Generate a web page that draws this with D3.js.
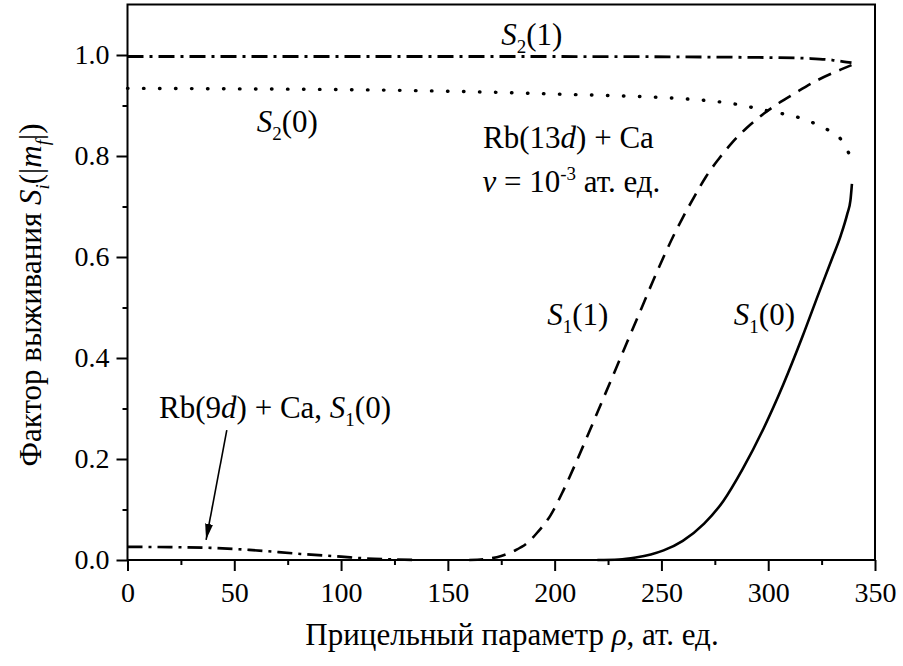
<!DOCTYPE html>
<html>
<head>
<meta charset="utf-8">
<script src="https://cdn.jsdelivr.net/npm/d3@7/dist/d3.min.js"></script>
<style>
  html, body { margin: 0; padding: 0; background: #fff; }
  svg text { font-family: "Liberation Serif", "Times New Roman", serif; fill: #000; }
</style>
</head>
<body>
<svg id="chart" width="903" height="666"></svg>
<script>
// tick values
var xTicks = [0, 50, 100, 150, 200, 250, 300, 350];
var yTicks = [0.0, 0.2, 0.4, 0.6, 0.8, 1.0];

// S1(0), solid
var rhoS10 = [220, 230, 238, 245, 251, 260, 270, 279, 288, 298, 307, 316, 324, 330, 334, 337, 338.5, 339.2];
var valS10 = [0, 0.001, 0.005, 0.011, 0.019, 0.038, 0.072, 0.117, 0.180, 0.262, 0.347, 0.442, 0.532, 0.598, 0.643, 0.685, 0.712, 0.745];

// S1(1), dashed
var rhoS11 = [160, 168, 175, 181, 187, 192, 198, 204, 210, 216, 222, 228, 234, 240, 246, 251, 256, 260, 266, 271, 277, 283, 290, 298, 305, 312, 323, 335, 339];
var valS11 = [0, 0.002, 0.008, 0.018, 0.033, 0.055, 0.088, 0.137, 0.193, 0.252, 0.312, 0.372, 0.432, 0.492, 0.552, 0.600, 0.645, 0.678, 0.724, 0.760, 0.795, 0.826, 0.856, 0.884, 0.905, 0.923, 0.950, 0.973, 0.980];

// S2(1), dash-dot
var rhoS21 = [0, 100, 200, 300, 320, 330, 335, 339];
var valS21 = [0.997, 0.997, 0.997, 0.995, 0.993, 0.990, 0.987, 0.985];

// S2(0), dotted
var rhoS20 = [0, 50, 128, 198, 268, 287, 298, 305, 312, 319, 326.5, 334, 338.3];
var valS20 = [0.934, 0.933, 0.930, 0.923, 0.911, 0.901, 0.891, 0.885, 0.879, 0.869, 0.855, 0.833, 0.801];

// Rb(9d) + Ca, S1(0), dash-dot
var rhoRb9 = [0, 20, 39, 57, 81, 100, 112, 125, 135];
var valRb9 = [0.026, 0.0255, 0.024, 0.020, 0.012, 0.0066, 0.003, 0.001, 0];

var margin = {left: 127.5, right: 28, top: 4.5, bottom: 106};
var W = 903, H = 666;
var svg = d3.select('#chart');

var x = d3.scaleLinear().domain([0, 350]).range([margin.left, W - margin.right]);
var y = d3.scaleLinear().domain([0, 1.1]).range([H - margin.bottom, margin.top]);

var FONT = '"Liberation Serif", "Times New Roman", serif';
var FS = 31, TICK = 28, SUB = 19;

// axes
var xMinor = d3.range(25, 350, 50);
var yMinor = d3.range(0.1, 1.1, 0.2);

function styleAxis(g) {
  g.attr('font-family', FONT).attr('font-size', TICK);
  g.select('.domain').remove();
  g.selectAll('.tick line').attr('stroke', '#000').attr('stroke-width', 2);
  g.selectAll('text').style('font-size', TICK + 'px');
}

svg.append('g').attr('transform', 'translate(0,' + y(0) + ')')
  .call(d3.axisBottom(x).tickValues(xTicks).tickSize(11).tickPadding(11).tickFormat(d3.format('d')))
  .call(styleAxis);
svg.append('g').attr('transform', 'translate(0,' + y(0) + ')')
  .call(d3.axisBottom(x).tickValues(xMinor).tickSize(5).tickFormat(''))
  .call(styleAxis);
svg.append('g').attr('transform', 'translate(' + x(0) + ',0)')
  .call(d3.axisLeft(y).tickValues(yTicks).tickSize(11).tickPadding(7).tickFormat(d3.format('.1f')))
  .call(styleAxis);
svg.append('g').attr('transform', 'translate(' + x(0) + ',0)')
  .call(d3.axisLeft(y).tickValues(yMinor).tickSize(5).tickFormat(''))
  .call(styleAxis);

// frame
svg.append('rect')
  .attr('x', x(0)).attr('y', y(1.1))
  .attr('width', x(350) - x(0)).attr('height', y(0) - y(1.1))
  .attr('fill', 'none').attr('stroke', '#000').attr('stroke-width', 2);

// curves
var line = d3.line().x(function(d) { return x(d[0]); }).y(function(d) { return y(d[1]); })
  .curve(d3.curveMonotoneX);

function drawCurve(rho, val, dash, width, cap) {
  svg.append('path')
    .datum(d3.zip(rho, val))
    .attr('d', line)
    .attr('fill', 'none')
    .attr('stroke', '#000')
    .attr('stroke-width', width)
    .attr('stroke-linecap', cap || 'butt')
    .attr('stroke-dasharray', dash);
}

drawCurve(rhoS21, valS21, '16,6,3,6', 2.8);
drawCurve(rhoS20, valS20, '0.5,15.5', 3.4, 'round');
drawCurve(rhoS11, valS11, '14,9', 2.6);
drawCurve(rhoS10, valS10, null, 2.6);
drawCurve(rhoRb9, valRb9, '15,6,3,6', 2.6);

// arrow to Rb(9d) curve
svg.append('defs').append('marker')
  .attr('id', 'arrow').attr('viewBox', '0 0 16 8')
  .attr('refX', 16).attr('refY', 4)
  .attr('markerWidth', 16).attr('markerHeight', 8)
  .attr('markerUnits', 'userSpaceOnUse')
  .attr('orient', 'auto')
  .append('path').attr('d', 'M0,0 L16,4 L0,8 Z').attr('fill', '#000');

svg.append('line')
  .attr('x1', x(46.5)).attr('y1', y(0.257))
  .attr('x2', x(36.8)).attr('y2', y(0.040))
  .attr('stroke', '#000').attr('stroke-width', 1.6)
  .attr('marker-end', 'url(#arrow)');

// rich text helper: parts = [text, style, dy] where style: i = italic, sub, sup
function rich(parent, parts) {
  parts.forEach(function(p) {
    var t = parent.append('tspan').text(p[0]);
    var s = p[1] || '';
    if (s.indexOf('i') >= 0) t.style('font-style', 'italic');
    if (s.indexOf('sub') >= 0) t.style('font-size', SUB + 'px').attr('dy', 8);
    if (s.indexOf('sup') >= 0) t.style('font-size', SUB + 'px').attr('dy', -12);
    if (p[2]) t.attr('dy', p[2]);
  });
}

function label(rho, v, parts) {
  var t = svg.append('text')
    .attr('x', x(rho)).attr('y', y(v))
    .style('font-size', FS + 'px');
  rich(t, parts);
  return t;
}

label(175, 1.02, [['S', 'i'], ['2', 'sub'], ['(1)', '', -8]]);
label(60.5, 0.848, [['S', 'i'], ['2', 'sub'], ['(0)', '', -8]]);
label(166.5, 0.816, [['Rb(13'], ['d', 'i'], [') + Ca']]);
label(166.2, 0.729, [['v', 'i'], [' = 10'], ['-3', 'sup'], [' ат. ед.', '', 12]]);
label(196.5, 0.465, [['S', 'i'], ['1', 'sub'], ['(1)', '', -8]]);
label(283.9, 0.465, [['S', 'i'], ['1', 'sub'], ['(0)', '', -8]]);
label(14.8, 0.281, [['Rb(9'], ['d', 'i'], [') + Ca, '], ['S', 'i'], ['1', 'sub'], ['(0)', '', -8]]);

// axis titles
var xt = svg.append('text')
  .attr('x', 512).attr('y', 645)
  .attr('text-anchor', 'middle').style('font-size', FS + 'px');
rich(xt, [['Прицельный параметр '], ['ρ', 'i'], [', ат. ед.']]);

var yt = svg.append('text')
  .attr('transform', 'translate(41,295) rotate(-90)')
  .attr('text-anchor', 'middle').style('font-size', FS + 'px');
rich(yt, [['Фактор выживания '], ['S', 'i'], ['i', 'i sub'], ['(|', '', -8], ['m', 'i'], ['f', 'i sub'], ['|)', '', -8]]);
</script>
</body>
</html>
